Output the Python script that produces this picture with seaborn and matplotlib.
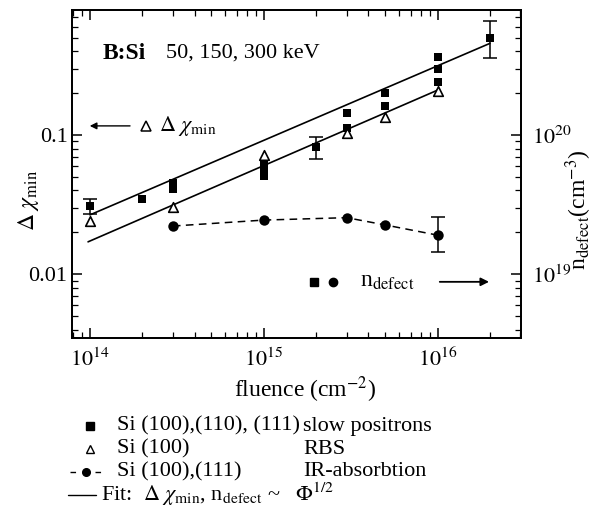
import numpy as np
import pandas as pd
import matplotlib
matplotlib.use("Agg")
import matplotlib.pyplot as plt
from matplotlib.lines import Line2D
from matplotlib.ticker import FixedLocator, FixedFormatter, LogLocator, NullFormatter
import seaborn as sns

# ---------------- data ----------------
# slow positrons (squares), left axis
sq_x = [1e14, 2e14, 3e14, 3e14, 1e15, 1e15, 1e15, 2e15, 3e15, 3e15, 5e15, 5e15, 1e16, 1e16, 1e16, 2e16]
sq_y = [0.031, 0.035, 0.045, 0.041, 0.062, 0.056, 0.051, 0.082, 0.145, 0.112, 0.201, 0.161, 0.365, 0.298, 0.242, 0.494]
# error bars on some squares
sqe_x = [1e14, 2e15, 2e16]
sqe_y = [0.031, 0.082, 0.494]
sqe_lo = [0.027, 0.067, 0.355]
sqe_hi = [0.0347, 0.097, 0.662]

# RBS (open triangles), left axis
tri_x = [1e14, 3e14, 1e15, 3e15, 5e15, 1e16]
tri_y = [0.024, 0.0305, 0.072, 0.104, 0.134, 0.208]

# IR-absorption (circles), right axis
circ_x = [3e14, 1e15, 3e15, 5e15, 1e16]
circ_y = [2.22e19, 2.45e19, 2.55e19, 2.26e19, 1.91e19]
circe_x = [1e16]
circe_y = [1.91e19]
circe_lo = [1.45e19]
circe_hi = [2.59e19]

# fit lines (end points)
fit_hi_x = [1.0e14, 2.0e16]
fit_hi_y = [0.0267, 0.455]
fit_lo_x = [9.75e13, 1.0e16]
fit_lo_y = [0.0171, 0.210]

# axes ranges & ticks
xlim = (7.85e13, 3.02e16)
ylim = (0.00347, 0.79)
scale_right = 1e21
xticks = [1e14, 1e15, 1e16]
xticklabels = [r"$10^{14}$", r"$10^{15}$", r"$10^{16}$"]
yticks = [0.01, 0.1]
yticklabels = ["0.01", "0.1"]
y2ticks = [1e19, 1e20]
y2ticklabels = [r"$10^{19}$", r"$10^{20}$"]

# ---------------- style ----------------
sns.set_theme(style="ticks")
plt.rcParams["font.family"] = ["Liberation Serif", "DejaVu Serif"]
plt.rcParams["mathtext.fontset"] = "stix"
for k in ["text.color", "axes.labelcolor", "xtick.color", "ytick.color", "axes.edgecolor"]:
    plt.rcParams[k] = "black"

FS = 16
fig = plt.figure(figsize=(5.98, 5.14), dpi=100)
W, H = 598, 514
ax_left, ax_right, ax_top, ax_bot = 71.7, 521, 10, 338.3
ax = fig.add_axes([ax_left / W, 1 - ax_bot / H, (ax_right - ax_left) / W, (ax_bot - ax_top) / H])

# fit lines
sns.lineplot(x=fit_hi_x, y=fit_hi_y, ax=ax, color="black", lw=1.2)
sns.lineplot(x=fit_lo_x, y=fit_lo_y, ax=ax, color="black", lw=1.2)

# error bars
ax.errorbar(sqe_x, sqe_y,
            yerr=[np.array(sqe_y) - np.array(sqe_lo), np.array(sqe_hi) - np.array(sqe_y)],
            fmt="none", ecolor="black", elinewidth=1.1, capsize=5, capthick=1.1, zorder=3)

# squares
sns.scatterplot(x=sq_x, y=sq_y, ax=ax, marker="s", color="black", s=36, linewidth=0, zorder=4)
# triangles
sns.scatterplot(x=tri_x, y=tri_y, ax=ax, marker="^", color="white", edgecolor="black",
                s=48, linewidth=1.2, zorder=5)

ax.set_xscale("log")
ax.set_yscale("log")
ax.set_xlim(*xlim)
ax.set_ylim(*ylim)

# right axis
ax2 = ax.twinx()
sns.lineplot(x=circ_x, y=circ_y, ax=ax2, color="black", marker="o", markersize=7.5,
             markeredgewidth=0, linestyle=(0, (5, 3.5)), lw=1.1)
ax2.errorbar(circe_x, circe_y,
             yerr=[np.array(circe_y) - np.array(circe_lo), np.array(circe_hi) - np.array(circe_y)],
             fmt="none", ecolor="black", elinewidth=1.1, capsize=5, capthick=1.1)
ax2.set_yscale("log")
ax2.set_ylim(ylim[0] * scale_right, ylim[1] * scale_right)
ax2.set_xlim(*xlim)

# ticks
for a in (ax, ax2):
    for sp in a.spines.values():
        sp.set_linewidth(1.3)
        sp.set_color("black")

ax.xaxis.set_major_locator(FixedLocator(xticks))
ax.xaxis.set_major_formatter(FixedFormatter(xticklabels))
ax.xaxis.set_minor_locator(LogLocator(base=10, subs=np.arange(2, 10)))
ax.xaxis.set_minor_formatter(NullFormatter())
ax.yaxis.set_major_locator(FixedLocator(yticks))
ax.yaxis.set_major_formatter(FixedFormatter(yticklabels))
ax.yaxis.set_minor_locator(LogLocator(base=10, subs=np.arange(2, 10)))
ax.yaxis.set_minor_formatter(NullFormatter())
ax2.yaxis.set_major_locator(FixedLocator(y2ticks))
ax2.yaxis.set_major_formatter(FixedFormatter(y2ticklabels))
ax2.yaxis.set_minor_locator(LogLocator(base=10, subs=np.arange(2, 10)))
ax2.yaxis.set_minor_formatter(NullFormatter())

ax.tick_params(axis="x", which="both", direction="in", top=True, bottom=True, labelsize=FS, pad=7)
ax.tick_params(axis="y", which="both", direction="in", left=True, right=False, labelsize=FS, pad=3)
ax2.tick_params(axis="y", which="both", direction="in", right=True, labelsize=FS, pad=8)
for a in (ax, ax2):
    a.tick_params(which="major", length=7, width=1.1)
    a.tick_params(which="minor", length=4, width=0.9)

ax.set_xlabel(r"fluence (cm$^{-2}$)", fontsize=17)
ax.xaxis.set_label_coords(0.52, -0.11)
ax.set_ylabel(r"$\Delta\ \chi_{\rm min}$", fontsize=17)
ax.yaxis.set_label_coords(-0.068, 0.42)
ax2.set_ylabel(r"n$_{\rm defect}$(cm$^{-3}$)", fontsize=17)
ax2.yaxis.set_label_coords(1.095, 0.39)

# annotations inside
ax.text(0.069, 0.869, "B:Si", transform=ax.transAxes, fontsize=17, fontweight="bold", va="center", ha="left")
ax.text(0.21, 0.869, "50, 150, 300 keV", transform=ax.transAxes, fontsize=16, va="center", ha="left")

ax.annotate("", xy=(0.034, 0.647), xytext=(0.136, 0.647), xycoords="axes fraction",
            arrowprops=dict(arrowstyle="-|>", color="black", lw=1.0, mutation_scale=10))
ax.plot([0.165], [0.647], transform=ax.transAxes, marker="^", ms=6.5, mfc="white", mec="black", mew=1.1, ls="none")
ax.text(0.195, 0.647, r"$\Delta\ \chi_{\rm min}$", transform=ax.transAxes, fontsize=16, va="center", ha="left")

ax.plot([0.539], [0.172], transform=ax.transAxes, marker="s", ms=6, color="black", ls="none")
ax.plot([0.581], [0.172], transform=ax.transAxes, marker="o", ms=6, color="black", ls="none")
ax.text(0.642, 0.172, r"n$_{\rm defect}$", transform=ax.transAxes, fontsize=17, va="center", ha="left")
ax.annotate("", xy=(0.935, 0.172), xytext=(0.813, 0.172), xycoords="axes fraction",
            arrowprops=dict(arrowstyle="-|>", color="black", lw=1.3, mutation_scale=12))

# ---------------- legend below (figure coords) ----------------
def fx(px):
    return px / W

def fy(py):
    return 1 - py / H

rows = [426, 449, 472, 495]
fig.add_artist(Line2D([fx(90)], [fy(rows[0])], marker="s", ms=5.5, color="black", ls="none", transform=fig.transFigure))
fig.add_artist(Line2D([fx(90)], [fy(rows[1])], marker="^", ms=6, mfc="white", mec="black", mew=1.0, ls="none", transform=fig.transFigure))
fig.add_artist(Line2D([fx(70), fx(101)], [fy(rows[2]), fy(rows[2])], color="black", lw=1.0,
                      ls=(0, (4, 5)), transform=fig.transFigure))
fig.add_artist(Line2D([fx(86.5)], [fy(rows[2])], marker="o", ms=5.5, color="black", ls="none", transform=fig.transFigure))
fig.add_artist(Line2D([fx(68), fx(96)], [fy(rows[3]), fy(rows[3])], color="black", lw=1.0, transform=fig.transFigure))

fig.text(fx(117), fy(rows[0]), "Si (100),(110), (111)", fontsize=FS, va="center", ha="left")
fig.text(fx(303), fy(rows[0]), "slow positrons", fontsize=FS, va="center", ha="left")
fig.text(fx(117), fy(rows[1]), "Si (100)", fontsize=FS, va="center", ha="left")
fig.text(fx(303), fy(rows[1]), "RBS", fontsize=FS, va="center", ha="left")
fig.text(fx(117), fy(rows[2]), "Si (100),(111)", fontsize=FS, va="center", ha="left")
fig.text(fx(303), fy(rows[2]), "IR-absorbtion", fontsize=FS, va="center", ha="left")
fig.text(fx(101), fy(rows[3]), r"Fit:  $\Delta\ \chi_{\rm min}$, n$_{\rm defect}$ ~", fontsize=FS, va="center", ha="left")
fig.text(fx(295), fy(rows[3]), r"$\Phi^{1/2}$", fontsize=FS, va="center", ha="left")

fig.savefig("out.png", dpi=100)
